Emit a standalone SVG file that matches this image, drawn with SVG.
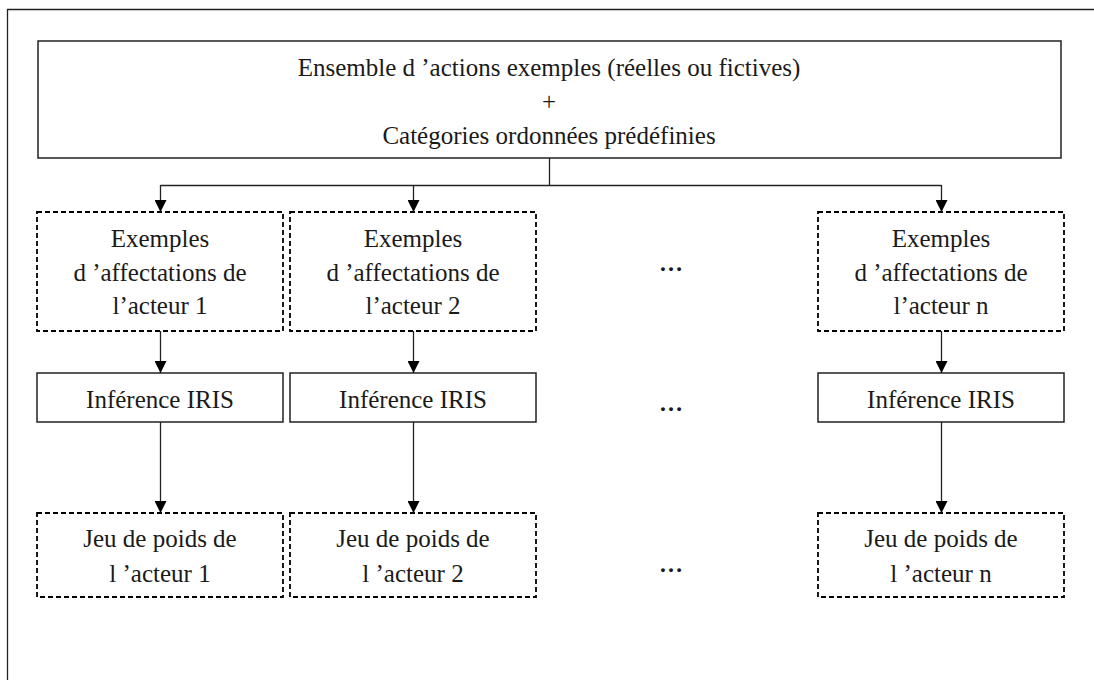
<svg xmlns="http://www.w3.org/2000/svg" width="1094" height="680" viewBox="0 0 1094 680">
<defs>
<marker id="ah" viewBox="0 0 12 12" refX="12" refY="6" markerWidth="12" markerHeight="12" markerUnits="userSpaceOnUse" orient="auto">
<path d="M0,0 L12,6 L0,12 Z" fill="#000"/>
</marker>
</defs>
<style>
text{font-family:'Liberation Serif','Times New Roman',serif;font-size:25px;fill:#1a1a1a;text-anchor:middle}
.solid{fill:#fff;stroke:#222;stroke-width:1.5}
.dash{fill:#fff;stroke:#000;stroke-width:1.8;stroke-dasharray:5 3}
.conn{fill:none;stroke:#222;stroke-width:1.3}
.dots{font-size:24px;font-weight:bold}
</style>
<rect width="1094" height="680" fill="#fff"/>
<path d="M7.5,690 V9.5 H1100" fill="none" stroke="#222" stroke-width="1.3"/>
<g id="top">
<rect class="solid" x="38" y="41" width="1023" height="117"/>
<text x="549" y="76">Ensemble d ’actions exemples (réelles ou fictives)</text>
<text x="549" y="110">+</text>
<text x="549" y="144">Catégories ordonnées prédéfinies</text>
</g>
<g id="ex1">
<rect class="dash" x="37" y="212" width="246" height="119"/>
<text x="160" y="247">Exemples</text>
<text x="160" y="281">d ’affectations de</text>
<text x="160" y="314">l’acteur 1</text>
</g>
<g id="ex2">
<rect class="dash" x="290" y="212" width="246" height="119"/>
<text x="413" y="247">Exemples</text>
<text x="413" y="281">d ’affectations de</text>
<text x="413" y="314">l’acteur 2</text>
</g>
<g id="exn">
<rect class="dash" x="818" y="212" width="246" height="119"/>
<text x="941" y="247">Exemples</text>
<text x="941" y="281">d ’affectations de</text>
<text x="941" y="314">l’acteur n</text>
</g>
<g id="inf1">
<rect class="solid" x="37" y="373" width="246" height="49"/>
<text x="160" y="408">Inférence IRIS</text>
</g>
<g id="inf2">
<rect class="solid" x="290" y="373" width="246" height="49"/>
<text x="413" y="408">Inférence IRIS</text>
</g>
<g id="infn">
<rect class="solid" x="818" y="373" width="246" height="49"/>
<text x="941" y="408">Inférence IRIS</text>
</g>
<g id="jeu1">
<rect class="dash" x="37" y="513" width="246" height="84"/>
<text x="160" y="547">Jeu de poids de</text>
<text x="160" y="582">l ’acteur 1</text>
</g>
<g id="jeu2">
<rect class="dash" x="290" y="513" width="246" height="84"/>
<text x="413" y="547">Jeu de poids de</text>
<text x="413" y="582">l ’acteur 2</text>
</g>
<g id="jeun">
<rect class="dash" x="818" y="513" width="246" height="84"/>
<text x="941" y="547">Jeu de poids de</text>
<text x="941" y="582">l ’acteur n</text>
</g>
<g id="dots">
<text class="dots" x="671" y="271">…</text>
<text class="dots" x="671" y="411">…</text>
<text class="dots" x="671" y="572">…</text>
</g>
<g id="connectors">
<path class="conn" d="M549.5,158 V185.5"/>
<path class="conn" d="M160.5,185.5 H941.5"/>
<path class="conn" d="M160.5,185 V212" marker-end="url(#ah)"/>
<path class="conn" d="M413.5,185 V212" marker-end="url(#ah)"/>
<path class="conn" d="M941.5,185 V212" marker-end="url(#ah)"/>
<path class="conn" d="M160.5,331 V373" marker-end="url(#ah)"/>
<path class="conn" d="M413.5,331 V373" marker-end="url(#ah)"/>
<path class="conn" d="M941.5,331 V373" marker-end="url(#ah)"/>
<path class="conn" d="M160.5,422 V513" marker-end="url(#ah)"/>
<path class="conn" d="M413.5,422 V513" marker-end="url(#ah)"/>
<path class="conn" d="M941.5,422 V513" marker-end="url(#ah)"/>
</g>
</svg>
